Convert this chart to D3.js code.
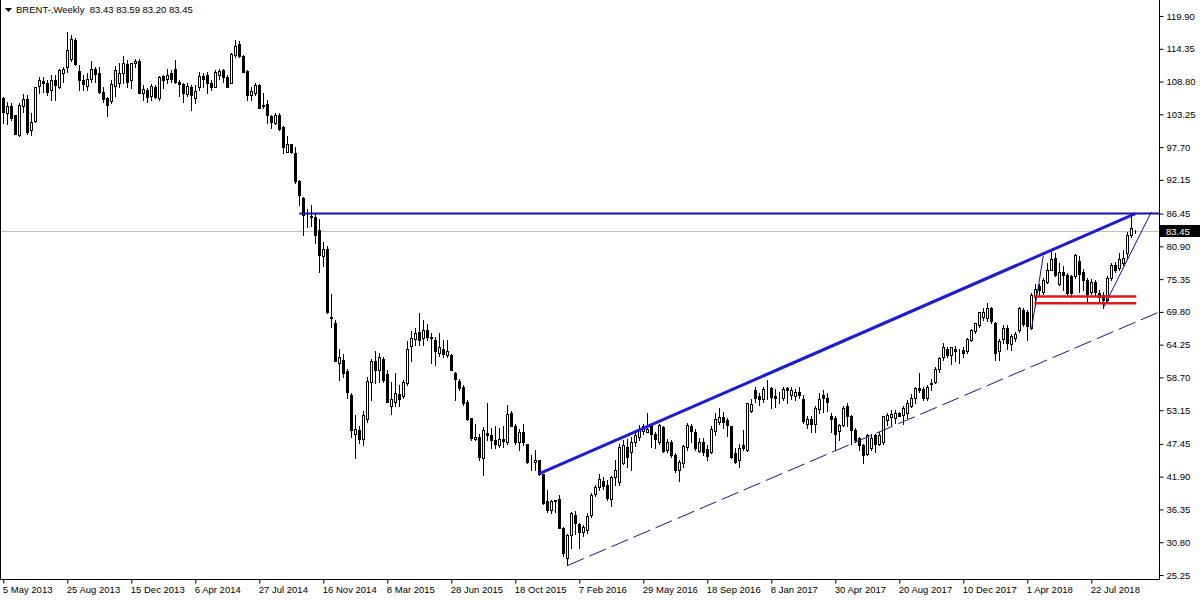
<!DOCTYPE html>
<html><head><meta charset="utf-8">
<script src="https://cdn.jsdelivr.net/npm/d3@7"></script>
<style>body{margin:0;background:#fff}svg{display:block}</style>
</head><body>
<svg id="chart" width="1200" height="600"></svg>
<script>
const titleText = "BRENT-,Weekly  83.43 83.59 83.20 83.45";
const dateLabels = ["5 May 2013","25 Aug 2013","15 Dec 2013","6 Apr 2014","27 Jul 2014","16 Nov 2014","8 Mar 2015","28 Jun 2015","18 Oct 2015","7 Feb 2016","29 May 2016","18 Sep 2016","8 Jan 2017","30 Apr 2017","20 Aug 2017","10 Dec 2017","1 Apr 2018","22 Jul 2018"];
const priceTicks = [119.90,114.35,108.80,103.25,97.70,92.15,86.45,80.90,75.35,69.80,64.25,58.70,53.15,47.45,41.90,36.35,30.80,25.25];
const lastPrice = 83.45;

const open = [106.0,103.5,104.7,103.1,99.8,104.7,105.8,100.6,102.1,108.1,108.9,108.6,107.3,109.1,107.8,110.3,111.2,112.6,115.8,110.6,
109.1,108.1,109.2,110.9,110.2,107.1,106.0,105.5,108.1,108.5,110.2,111.7,109.0,111.9,112.3,106.9,107.4,106.4,107.9,106.1,
109.7,109.2,110.3,110.9,108.8,108.4,106.7,107.9,106.1,107.9,109.7,109.9,108.6,107.9,109.9,110.8,109.6,108.6,113.3,115.2,
113.1,110.6,106.6,106.8,108.2,104.9,105.0,103.0,101.7,103.1,101.1,96.9,98.2,96.7,91.9,89.0,86.4,86.0,85.9,83.7,
79.2,80.4,68.9,68.0,61.2,61.7,59.8,55.7,49.2,49.8,48.2,51.6,58.0,61.4,59.9,61.9,59.3,53.8,54.6,55.9,
55.5,57.7,64.0,65.2,66.4,65.3,66.7,65.5,65.1,62.8,63.5,62.5,62.5,59.5,58.1,57.1,54.5,51.8,48.2,48.6,
45.0,49.3,49.0,48.1,47.3,48.3,47.8,52.7,50.5,47.8,49.4,47.4,44.6,44.3,44.7,42.4,37.7,36.2,37.9,38.2,
33.2,28.1,32.0,35.4,33.9,32.6,32.9,35.4,39.0,40.1,41.2,40.5,38.2,41.8,41.0,44.2,47.0,46.1,47.8,48.7,
49.7,49.5,50.4,49.2,47.8,50.3,46.4,47.8,45.6,43.0,44.2,46.9,50.5,49.5,46.3,47.7,46.5,46.0,49.7,51.2,
52.0,51.5,50.4,45.9,44.8,47.3,46.4,53.1,56.6,55.6,55.0,57.0,56.9,55.6,55.6,55.2,56.9,55.7,55.6,56.3,
55.0,50.9,51.6,50.9,53.3,55.7,55.3,52.2,51.8,49.7,50.6,53.9,52.1,49.8,48.4,47.3,45.7,46.7,49.0,47.5,
47.8,51.5,52.0,51.8,52.7,52.3,52.6,53.8,55.3,56.9,56.7,55.3,57.6,58.0,60.2,62.1,63.6,62.5,63.6,63.2,
63.4,63.1,65.0,66.5,67.6,69.0,68.7,70.4,67.9,63.1,65.2,67.0,64.4,65.3,66.7,70.1,69.7,67.1,72.4,74.1,
73.2,74.8,76.9,78.9,74.6,76.6,76.0,75.8,75.8,78.5,76.6,75.2,73.2,74.9,73.0,72.7,71.8,75.5,77.7,77.2,
78.0,79.7,82.8,83.43];
const high = [106.2,105.4,105.2,103.2,105.1,106.7,106.5,103.4,107.9,109.5,109.6,109.1,109.9,109.9,111.0,111.3,117.2,116.7,116.1,111.6,
109.9,110.2,112.2,111.3,111.3,107.9,106.2,109.1,111.4,111.9,113.1,112.4,112.0,112.7,112.6,108.2,107.7,108.4,108.2,109.7,
109.9,111.0,110.8,112.4,109.1,108.5,108.5,108.2,108.2,110.5,110.2,110.5,109.1,110.8,111.0,111.0,109.9,113.6,115.8,115.7,
113.3,110.8,107.9,108.5,108.4,106.8,105.6,103.1,103.4,103.4,101.2,99.5,98.3,97.8,92.1,89.3,87.2,87.9,86.5,85.6,
81.7,80.9,72.9,68.4,63.6,62.7,60.2,56.0,52.3,50.4,53.1,58.8,61.8,63.1,62.9,62.2,60.0,58.0,59.5,57.5,
58.3,64.9,66.5,67.0,69.6,68.4,67.7,66.2,65.6,66.2,65.0,65.0,62.6,59.7,58.5,57.5,54.9,51.9,50.9,49.2,
50.3,54.3,50.1,50.4,50.1,50.4,54.0,53.1,50.9,49.9,50.9,47.5,45.6,46.4,44.8,42.4,39.6,38.0,38.0,38.8,
33.3,32.2,36.0,36.1,34.1,33.7,35.7,39.1,40.5,42.4,41.9,41.3,42.0,44.7,47.4,48.1,48.2,48.7,49.3,50.6,
50.9,52.7,50.6,49.5,50.9,50.5,48.2,48.1,45.9,44.7,47.3,51.0,50.9,49.9,48.4,48.4,47.3,50.4,52.7,53.6,
52.9,51.8,50.5,46.7,47.5,49.8,54.4,55.0,57.1,56.0,57.1,58.2,57.0,56.7,56.3,57.1,57.1,57.0,56.7,57.1,
55.8,52.1,52.1,53.8,56.1,56.6,56.0,52.6,52.1,50.9,53.8,54.3,52.3,50.1,48.7,47.5,49.2,49.2,49.2,49.5,
52.2,52.7,53.2,53.2,52.9,53.9,54.9,55.9,57.1,59.4,57.1,57.4,58.4,60.4,62.2,64.6,63.8,63.9,64.0,63.5,
63.9,65.3,66.9,68.0,69.8,70.4,71.3,70.7,68.1,65.2,67.6,67.6,66.0,66.4,70.6,70.4,70.1,73.0,74.6,74.5,
75.5,78.0,80.3,79.7,78.0,77.5,76.4,76.1,79.6,79.2,77.0,75.5,75.3,75.2,73.5,73.2,75.8,78.0,78.3,79.7,
80.3,83.4,86.5,83.59];
const low = [101.7,101.6,102.3,99.9,99.6,103.7,100.0,99.8,101.9,106.9,107.1,106.5,105.7,105.7,107.7,108.8,110.5,112.2,111.6,107.4,
107.4,107.4,108.8,108.8,106.8,105.4,102.9,105.2,106.4,107.9,108.6,107.9,107.7,111.3,106.8,105.7,105.4,105.7,106.1,105.7,
107.7,108.6,108.8,108.5,106.4,105.4,106.4,103.9,105.2,107.4,107.9,106.8,107.4,107.8,109.3,108.8,107.8,108.5,113.0,113.0,
110.5,105.7,105.6,106.5,104.3,104.3,101.8,101.0,101.6,100.6,96.7,96.8,96.7,91.6,87.9,82.8,84.1,84.3,81.5,76.6,
77.5,69.6,67.3,61.5,58.3,58.8,55.3,48.7,45.0,47.6,47.3,51.2,54.9,57.7,58.0,57.9,54.6,52.5,53.9,53.8,
55.2,57.4,61.4,64.2,64.2,64.2,65.1,61.1,60.8,62.3,62.2,62.2,60.0,54.9,56.6,54.0,51.5,48.1,48.1,44.8,
42.2,48.1,46.7,46.7,47.0,47.0,47.5,50.4,47.5,46.4,47.3,44.2,43.0,43.1,42.2,37.3,36.0,35.8,36.0,33.2,
28.4,26.95,29.9,32.2,29.8,31.9,32.4,35.1,38.6,39.6,39.8,37.9,36.9,40.5,40.5,44.0,43.6,43.0,47.1,48.1,
49.2,49.5,47.0,46.7,47.5,46.0,46.1,45.3,42.7,41.2,43.6,46.4,47.8,46.4,46.0,45.6,44.7,45.9,49.0,50.9,
50.1,48.8,45.0,44.2,43.5,46.4,46.3,52.9,54.6,54.0,54.6,55.0,53.5,53.7,54.4,54.9,54.3,55.0,54.9,55.2,
51.0,50.1,49.5,49.5,52.6,52.9,53.0,49.4,46.4,48.1,50.5,50.4,47.5,47.8,46.4,44.2,45.6,46.4,46.0,47.3,
47.5,50.6,50.6,51.0,52.1,50.9,51.9,53.7,54.3,56.3,54.9,54.9,56.6,57.7,59.7,61.6,62.2,61.0,61.4,61.1,
62.2,62.8,64.9,66.2,67.3,68.4,68.2,68.0,61.7,61.7,64.6,63.5,63.4,64.8,66.4,67.4,65.1,66.9,70.8,72.7,
72.9,74.7,76.9,75.8,74.3,73.5,72.7,72.4,75.5,73.2,73.5,71.4,72.9,72.5,71.5,70.5,71.5,75.2,76.6,76.9,
77.8,78.9,82.4,83.20];
const close = [103.7,104.7,102.6,100.0,104.8,105.8,100.3,102.0,107.8,109.1,108.5,107.1,109.1,108.2,110.8,111.0,114.1,116.0,111.7,109.1,
108.4,109.3,110.9,110.0,107.1,105.8,104.8,108.4,110.8,110.3,111.9,108.8,111.9,112.2,106.9,107.5,106.2,108.1,106.2,109.5,
109.1,109.9,109.2,108.8,108.4,106.8,108.1,106.5,107.2,109.7,109.3,108.5,107.9,110.5,110.6,109.5,107.9,113.5,114.8,113.1,
110.5,106.5,107.2,108.2,104.4,104.6,103.1,102.0,103.1,100.7,97.7,98.2,96.8,91.9,89.6,86.2,86.3,85.9,82.9,79.4,
80.4,69.7,68.7,61.5,62.1,59.5,56.2,49.8,49.9,48.2,52.3,58.1,61.5,59.9,62.2,58.3,54.6,55.1,56.0,55.0,
57.9,63.6,65.3,66.3,65.1,66.8,65.6,65.4,63.1,63.8,62.7,63.2,60.0,58.4,56.9,54.4,51.6,48.4,48.7,45.2,
49.8,48.9,48.1,47.4,48.2,48.0,52.5,50.5,47.8,49.4,47.7,44.3,44.5,44.8,42.4,37.4,36.3,37.7,37.8,33.2,
28.9,32.0,35.7,34.0,32.6,33.3,35.2,38.8,40.2,41.5,40.3,38.3,41.8,43.0,47.0,47.3,45.2,47.8,48.9,49.9,
50.4,50.0,49.2,48.2,50.6,46.3,47.8,45.6,43.0,44.4,47.1,50.6,49.7,46.7,47.8,46.0,45.4,49.9,51.6,52.0,
51.2,50.6,45.3,44.4,46.7,46.7,54.3,54.2,55.2,55.0,56.7,57.1,55.4,55.3,55.5,56.7,56.5,56.5,56.3,55.7,
51.3,51.6,50.8,53.6,55.0,55.3,54.5,51.6,49.2,50.6,53.6,52.1,49.8,48.1,47.3,45.6,49.0,48.4,47.5,49.0,
52.1,52.3,52.5,52.7,52.2,53.6,54.3,55.3,56.9,56.6,55.2,57.1,57.7,60.2,62.0,63.8,62.5,63.8,63.2,63.1,
62.8,65.2,66.7,67.9,69.7,69.8,70.4,68.2,62.8,64.9,67.0,64.5,65.7,66.1,70.4,67.7,67.4,72.7,73.6,73.5,
75.2,76.9,78.7,76.1,76.6,76.1,73.0,73.0,79.4,76.3,75.2,72.9,74.9,73.1,72.3,71.8,75.5,77.7,76.9,78.7,
78.9,82.8,83.95,83.45];

// drawn objects (bar index, price)
const horizontalLevel = {fromBar: 74, price: 86.45};
const channelTop = [[134, 42.4], [283, 86.45]];
const channelBottom = [[141, 26.84], [283, 68.05]];
const thinLineA = [[257, 66.7], [260, 79.3]];
const thinLineB = [[275, 70.5], [287, 86.7]];
const redLevels = [72.4, 71.25];
const redFromBar = 258, redToBar = 283;

const svg = d3.select("#chart");
const W = 1200, H = 600, plotRight = 1159, plotBottom = 580;
const font = "'Liberation Sans', Arial, sans-serif";
const x = d3.scaleLinear().domain([0, 283]).range([3.3, 1135.3]);
const y = d3.scaleLinear().domain([119.9, 25.25]).range([16, 575]);

svg.append("rect").attr("width", W).attr("height", H).attr("fill", "#fff");

const plot = svg.append("g");
plot.append("clipPath").attr("id", "clip").append("rect").attr("x", 0).attr("y", 0).attr("width", plotRight).attr("height", plotBottom);
const g = plot.append("g").attr("clip-path", "url(#clip)");

// last price grey line
g.append("line").attr("x1", 0).attr("x2", plotRight).attr("y1", Math.round(y(lastPrice)) + 0.5).attr("y2", Math.round(y(lastPrice)) + 0.5)
  .attr("stroke", "#c0c0c0").attr("stroke-width", 1);

// candles
const idx = d3.range(open.length);
const px = i => Math.round(x(i));
const cg = g.append("g");
cg.selectAll("line.w").data(idx).join("line").attr("class", "w")
  .attr("x1", i => px(i) + 0.5).attr("x2", i => px(i) + 0.5)
  .attr("y1", i => Math.round(y(high[i]))).attr("y2", i => Math.round(y(low[i])) + 1)
  .attr("stroke", "#000").attr("stroke-width", 1);
cg.selectAll("rect.b").data(idx).join("rect").attr("class", "b")
  .attr("x", i => px(i) - 0.5)
  .attr("y", i => Math.round(y(Math.max(open[i], close[i]))) + 0.5)
  .attr("width", 2)
  .attr("height", i => Math.max(0, Math.round(y(Math.min(open[i], close[i]))) - Math.round(y(Math.max(open[i], close[i])))))
  .attr("fill", i => close[i] >= open[i] ? "#fff" : "#000")
  .attr("stroke", "#000").attr("stroke-width", 1);

// horizontal level
g.append("line").attr("x1", x(horizontalLevel.fromBar)).attr("x2", plotRight)
  .attr("y1", y(horizontalLevel.price)).attr("y2", y(horizontalLevel.price))
  .attr("stroke", "#1212a8").attr("stroke-width", 2);

// channel bottom dashed ray
const xEnd = x.invert(plotRight);
function extend(p, xe) {
  const [a, b] = p; const s = (b[1] - a[1]) / (b[0] - a[0]);
  return [a, [xe, a[1] + s * (xe - a[0])]];
}
const cb = extend(channelBottom, xEnd);
g.append("line").attr("x1", x(cb[0][0])).attr("y1", y(cb[0][1])).attr("x2", x(cb[1][0])).attr("y2", y(cb[1][1]))
  .attr("stroke", "#16168e").attr("stroke-width", 1).attr("stroke-dasharray", "18,6");

// thin lines
[thinLineA, thinLineB].forEach(l => {
  g.append("line").attr("x1", x(l[0][0])).attr("y1", y(l[0][1])).attr("x2", x(l[1][0])).attr("y2", y(l[1][1]))
    .attr("stroke", "#1414a0").attr("stroke-width", 1);
});

// channel top thick
g.append("line").attr("x1", x(channelTop[0][0])).attr("y1", y(channelTop[0][1])).attr("x2", x(channelTop[1][0])).attr("y2", y(channelTop[1][1]))
  .attr("stroke", "#1c1cd4").attr("stroke-width", 3);

// red levels
redLevels.forEach(p => {
  g.append("line").attr("x1", x(redFromBar) - 1).attr("x2", x(redToBar) + 1).attr("y1", y(p)).attr("y2", y(p))
    .attr("stroke", "#dd1a1a").attr("stroke-width", 2.5);
});

// axes
const yAxis = d3.axisRight(y).tickValues(priceTicks).tickFormat(d3.format(".2f")).tickSize(4).tickPadding(3);
const ya = svg.append("g").attr("transform", `translate(${plotRight + 0.5},0)`).call(yAxis);
ya.select(".domain").attr("d", `M0,0V${plotBottom}`).attr("stroke", "#000");
ya.selectAll("text").attr("font-family", font).attr("font-size", 9.5).attr("fill", "#000");

const xAxis = d3.axisBottom(x).tickValues(d3.range(0, 283, 16)).tickFormat((d, i) => dateLabels[i]).tickSize(4).tickPadding(3);
const xa = svg.append("g").attr("transform", `translate(0,${plotBottom - 0.5})`).call(xAxis);
xa.select(".domain").attr("d", `M0,0H${plotRight + 0.5}`).attr("stroke", "#000");
xa.selectAll("text").attr("font-family", font).attr("font-size", 9.5).attr("text-anchor", "start").attr("dx", -1).attr("fill", "#000");

// left border
svg.append("line").attr("x1", 0.5).attr("x2", 0.5).attr("y1", 0).attr("y2", plotBottom).attr("stroke", "#000");

// last price tag
const ly = Math.round(y(lastPrice));
svg.append("rect").attr("x", plotRight + 1).attr("y", ly - 6).attr("width", W - plotRight - 1).attr("height", 12).attr("fill", "#000");
svg.append("text").attr("x", plotRight + 7).attr("y", ly + 3.5).attr("font-family", font).attr("font-size", 9.5)
  .attr("fill", "#fff").text(d3.format(".2f")(lastPrice));

// title
svg.append("path").attr("d", "M5,8H12L8.5,12Z").attr("fill", "#000");
svg.append("text").attr("x", 16).attr("y", 13).attr("font-family", font).attr("font-size", 9.5).attr("fill", "#000")
  .attr("xml:space", "preserve").style("white-space", "pre").text(titleText);
</script>
</body></html>
